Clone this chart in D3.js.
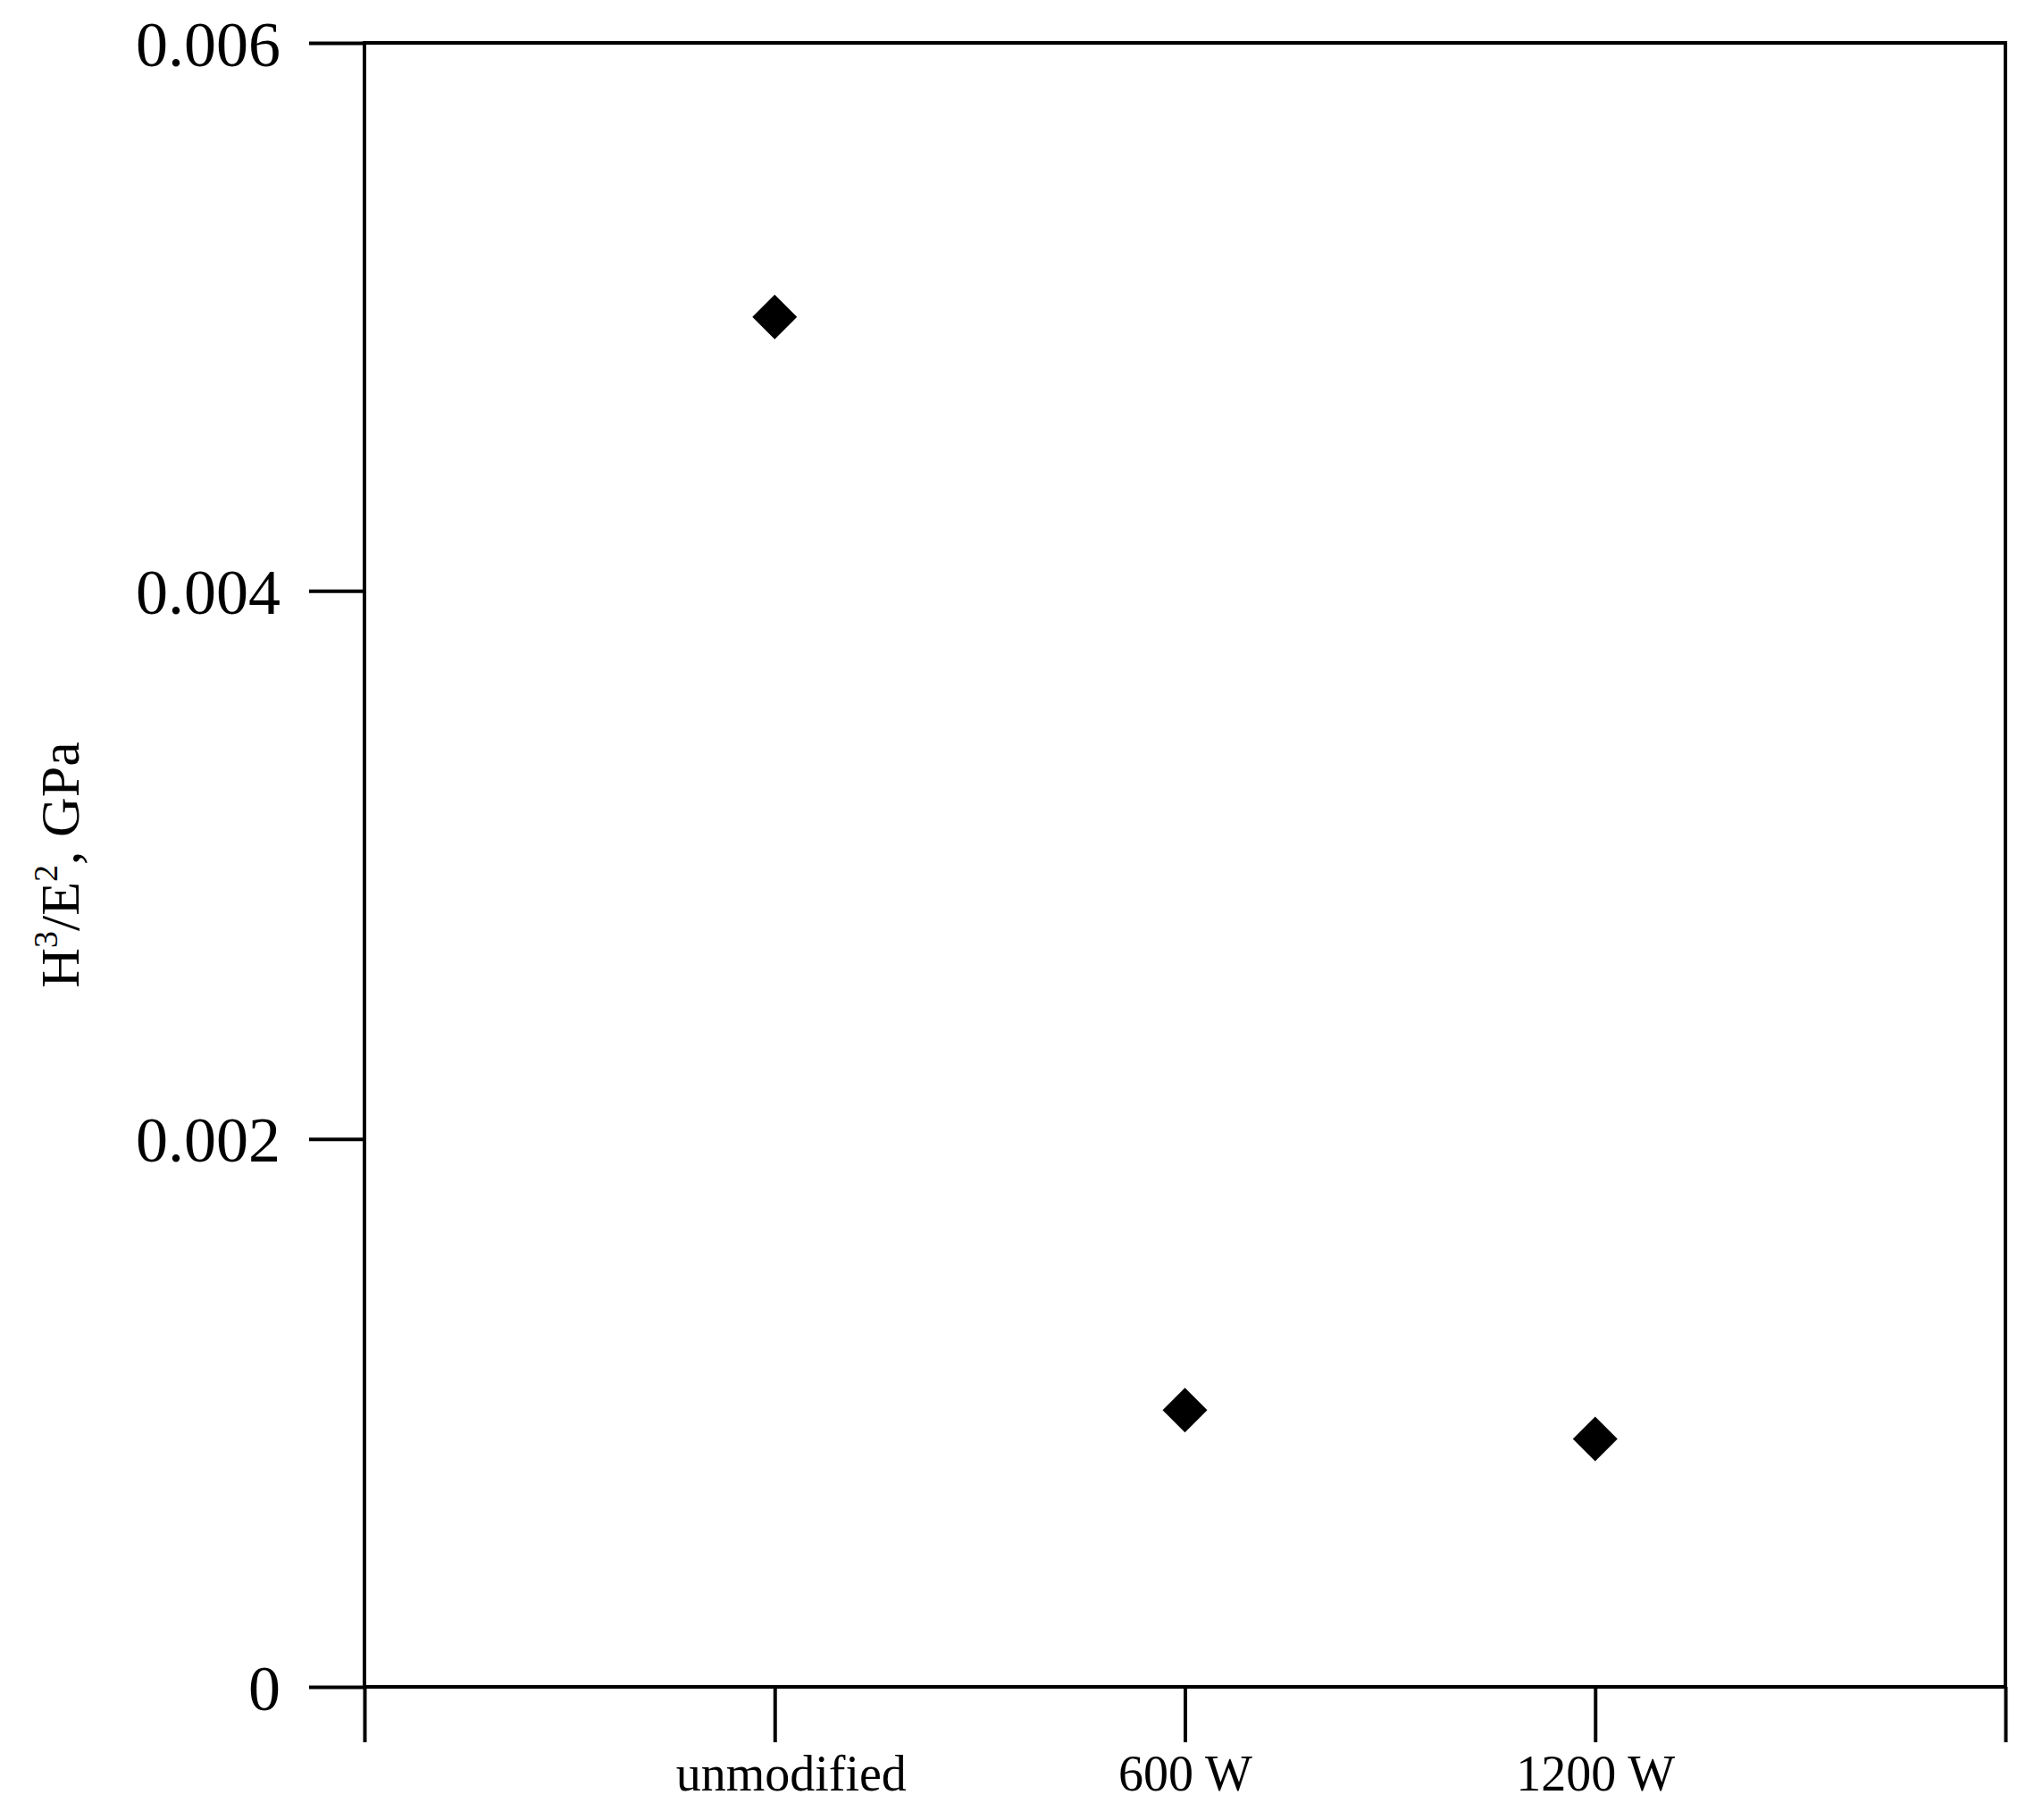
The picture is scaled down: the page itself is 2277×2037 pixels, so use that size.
<!DOCTYPE html>
<html><head><meta charset="utf-8">
<script src="https://cdn.jsdelivr.net/npm/d3@7"></script>
<style>body{margin:0;background:#fff}</style>
</head><body>
<script>
const categories = ["unmodified", "600 W", "1200 W"];
const values = [0.0050, 0.00101, 0.000905];
const yTicks = [0, 0.002, 0.004, 0.006];
const yTickLabels = ["0", "0.002", "0.004", "0.006"];

const W = 2277, H = 2037;
const mLeft = 408, mRight = 2245, mTop = 48, mBottom = 1888;
const font = "Liberation Serif, Times New Roman, serif";

const svg = d3.select("body").append("svg").attr("width", W).attr("height", H);
const x = d3.scaleLinear([0, 4], [mLeft, mRight]);
const y = d3.scaleLinear([0, 0.006], [mBottom, mTop]);

// frame
svg.append("rect").attr("x", mLeft).attr("y", mTop)
  .attr("width", mRight - mLeft).attr("height", mBottom - mTop)
  .attr("fill", "none").attr("stroke", "#000").attr("stroke-width", 4);

// y axis
const yAxis = svg.append("g").attr("transform", `translate(${mLeft},0)`)
  .call(d3.axisLeft(y).tickValues(yTicks).tickSize(62).tickFormat((d, i) => yTickLabels[i]));
yAxis.select(".domain").remove();
yAxis.selectAll("line").attr("stroke-width", 4);
yAxis.selectAll("text").attr("font-family", font).attr("font-size", 72).attr("x", -94).attr("dy", "0.35em");

// x axis
const xAxis = svg.append("g").attr("transform", `translate(0,${mBottom})`)
  .call(d3.axisBottom(x).tickValues([0, 1, 2, 3, 4]).tickSize(62).tickFormat(d => categories[d - 1] || ""));
xAxis.select(".domain").remove();
xAxis.selectAll("line").attr("stroke-width", 4);
xAxis.selectAll("text").attr("font-family", font).attr("font-size", 56).attr("y", 96).attr("dy", "0.35em")
  .attr("dx", d => d === 1 ? 18 : 0);

// y label
const lab = svg.append("text").attr("transform", "translate(88,968) rotate(-90)")
  .attr("text-anchor", "middle").attr("font-family", font).attr("font-size", 62);
lab.append("tspan").text("H");
lab.append("tspan").text("3").attr("font-size", 38).attr("dy", -24);
lab.append("tspan").text("/E").attr("dy", 24);
lab.append("tspan").text("2").attr("font-size", 38).attr("dy", -24);
lab.append("tspan").text(", GPa").attr("dy", 24);

// points (square rotated 45° = diamond)
svg.selectAll("path.pt").data(values).join("path")
  .attr("class", "pt")
  .attr("transform", (d, i) => `translate(${x(i + 1)},${y(d)}) rotate(45)`)
  .attr("d", d3.symbol(d3.symbolSquare, 1250))
  .attr("fill", "#000");
</script>
</body></html>
